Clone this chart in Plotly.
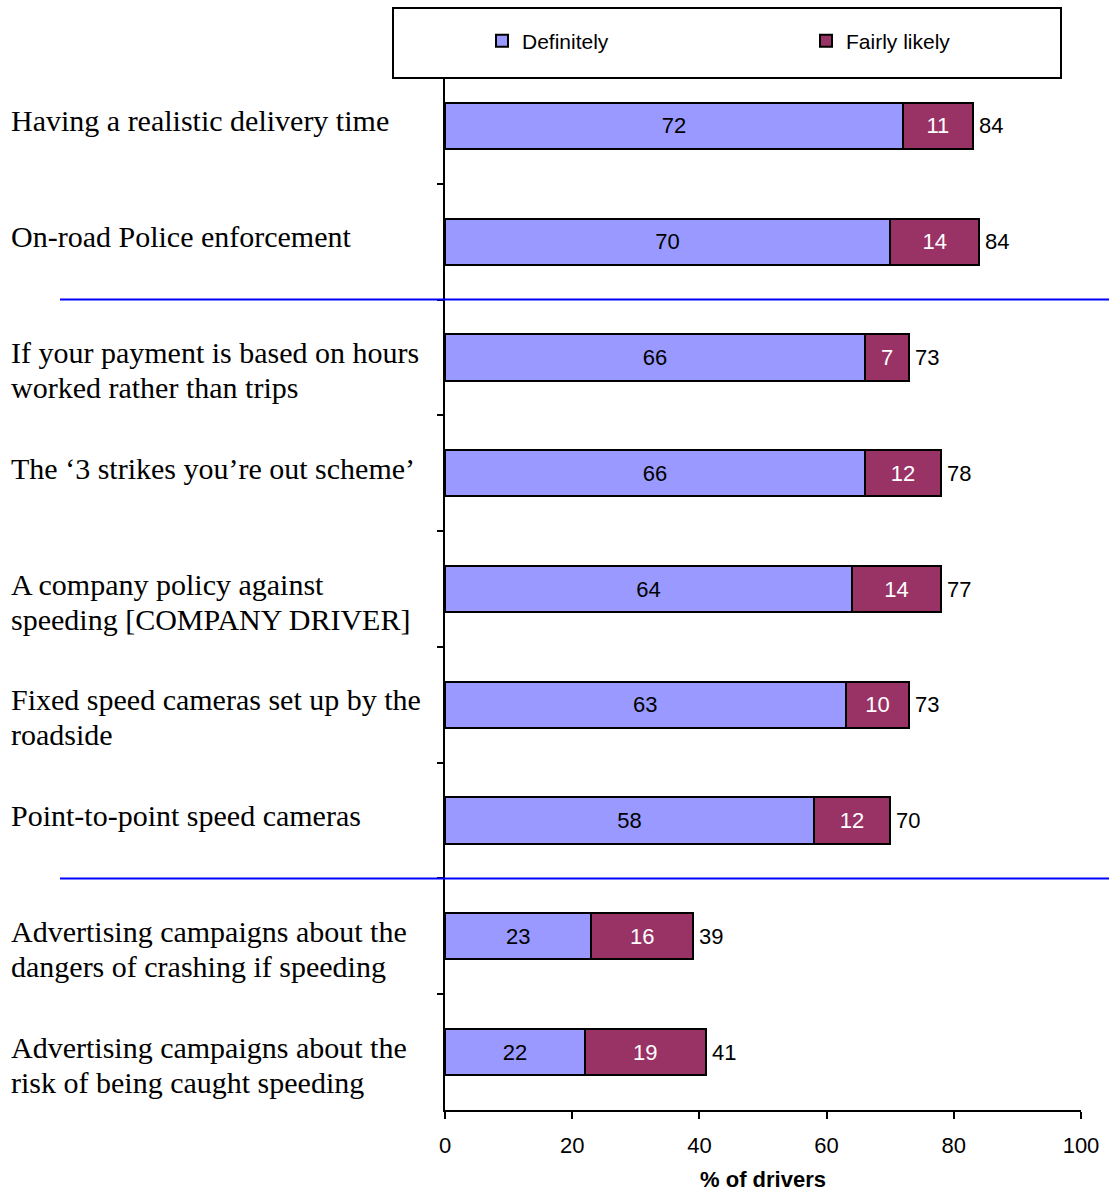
import plotly.graph_objects as go

# Survey items (top to bottom) and shares of drivers
categories = [
    "Having a realistic delivery time",
    "On-road Police enforcement",
    "If your payment is based on hours<br>worked rather than trips",
    "The ‘3 strikes you’re out scheme’",
    "A company policy against<br>speeding [COMPANY DRIVER]",
    "Fixed speed cameras set up by the<br>roadside",
    "Point-to-point speed cameras",
    "Advertising campaigns about the<br>dangers of crashing if speeding",
    "Advertising campaigns about the<br>risk of being caught speeding",
]
definitely = [72, 70, 66, 66, 64, 63, 58, 23, 22]
fairly_likely = [11, 14, 7, 12, 14, 10, 12, 16, 19]
totals = [84, 84, 73, 78, 77, 73, 70, 39, 41]
x_ticks = [0, 20, 40, 60, 80, 100]

# Group dividers sit on the boundaries between category slots
divider_positions = [1.5, 6.5]

W, H = 1109, 1193
ML, MR, MT, MB = 445, 28, 68, 83
PW = W - ML - MR
PH = H - MT - MB

def px_to_paper_x(px):
    return (px - ML) / PW

def px_to_paper_y(py):
    return (H - MB - py) / PH

sans = "Liberation Sans, Arial, sans-serif"
serif = "Liberation Serif, Times New Roman, serif"

fig = go.Figure()
fig.add_trace(go.Bar(
    y=categories, x=definitely, orientation="h", name="Definitely",
    marker=dict(color="#9999FF", line=dict(color="#000000", width=2)),
    text=[str(v) for v in definitely], textposition="inside",
    insidetextanchor="middle", textangle=0,
    insidetextfont=dict(family=sans, size=22, color="#000000"),
    width=0.4, legend="legend",
))
fig.add_trace(go.Bar(
    y=categories, x=fairly_likely, orientation="h", name="Fairly likely",
    marker=dict(color="#993366", line=dict(color="#000000", width=2)),
    text=[str(v) for v in fairly_likely], textposition="inside",
    insidetextanchor="middle", textangle=0,
    insidetextfont=dict(family=sans, size=22, color="#FFFFFF"),
    width=0.4, legend="legend2",
))

annotations = []
# Totals to the right of each stacked bar
for cat, d, f, t in zip(categories, definitely, fairly_likely, totals):
    annotations.append(dict(
        x=d + f, y=cat, xref="x", yref="y", text=str(t), showarrow=False,
        xanchor="left", yanchor="middle", xshift=4,
        font=dict(family=sans, size=22, color="#000000"),
    ))
# Category labels in the left margin, one annotation per text line
LINE_STEP = 35
for cat in categories:
    for i, line in enumerate(cat.split("<br>")):
        annotations.append(dict(
            x=px_to_paper_x(9), y=cat, xref="paper", yref="y", text=line,
            showarrow=False, xanchor="left", yanchor="middle", align="left",
            yshift=5 - i * LINE_STEP,
            font=dict(family=serif, size=30, color="#000000"),
        ))

shapes = []
for pos in divider_positions:
    shapes.append(dict(
        type="line", xref="paper", yref="y",
        x0=px_to_paper_x(60), x1=px_to_paper_x(1109), y0=pos, y1=pos,
        line=dict(color="#0000FF", width=2),
    ))
# Legend frame
shapes.append(dict(
    type="rect", xref="paper", yref="paper",
    x0=px_to_paper_x(393), x1=px_to_paper_x(1061),
    y0=px_to_paper_y(78), y1=px_to_paper_y(8),
    line=dict(color="#000000", width=2), fillcolor="#FFFFFF", layer="above",
))

legend_common = dict(
    orientation="h", yanchor="middle", xanchor="left",
    bgcolor="rgba(0,0,0,0)", borderwidth=0, itemwidth=30,
    font=dict(family=sans, size=21, color="#000000"),
)

fig.update_layout(
    width=W, height=H, barmode="stack",
    margin=dict(l=ML, r=MR, t=MT, b=MB, autoexpand=False),
    paper_bgcolor="#FFFFFF", plot_bgcolor="#FFFFFF",
    font=dict(family=sans, size=22, color="#000000"),
    showlegend=True,
    legend=dict(x=px_to_paper_x(482), y=px_to_paper_y(41), **legend_common),
    legend2=dict(x=px_to_paper_x(806), y=px_to_paper_y(41), **legend_common),
    xaxis=dict(
        range=[0, 100], tickvals=x_ticks, ticks="outside", ticklen=7,
        tickwidth=2, tickcolor="#000000", showline=True, linecolor="#000000",
        linewidth=2, showgrid=False, zeroline=False, ticklabelstandoff=8,
        tickfont=dict(family=sans, size=22),
        title=dict(text="<b>% of drivers</b>", font=dict(family=sans, size=22),
                   standoff=14),
    ),
    yaxis=dict(
        type="category", categoryorder="array", categoryarray=categories,
        autorange="reversed", tickson="boundaries", ticks="outside",
        ticklen=6, tickwidth=2, tickcolor="#000000", showticklabels=False,
        showline=True, linecolor="#000000", linewidth=2, showgrid=False,
        zeroline=False,
    ),
    bargap=0.6, annotations=annotations, shapes=shapes,
)

fig.write_html("out.html")
